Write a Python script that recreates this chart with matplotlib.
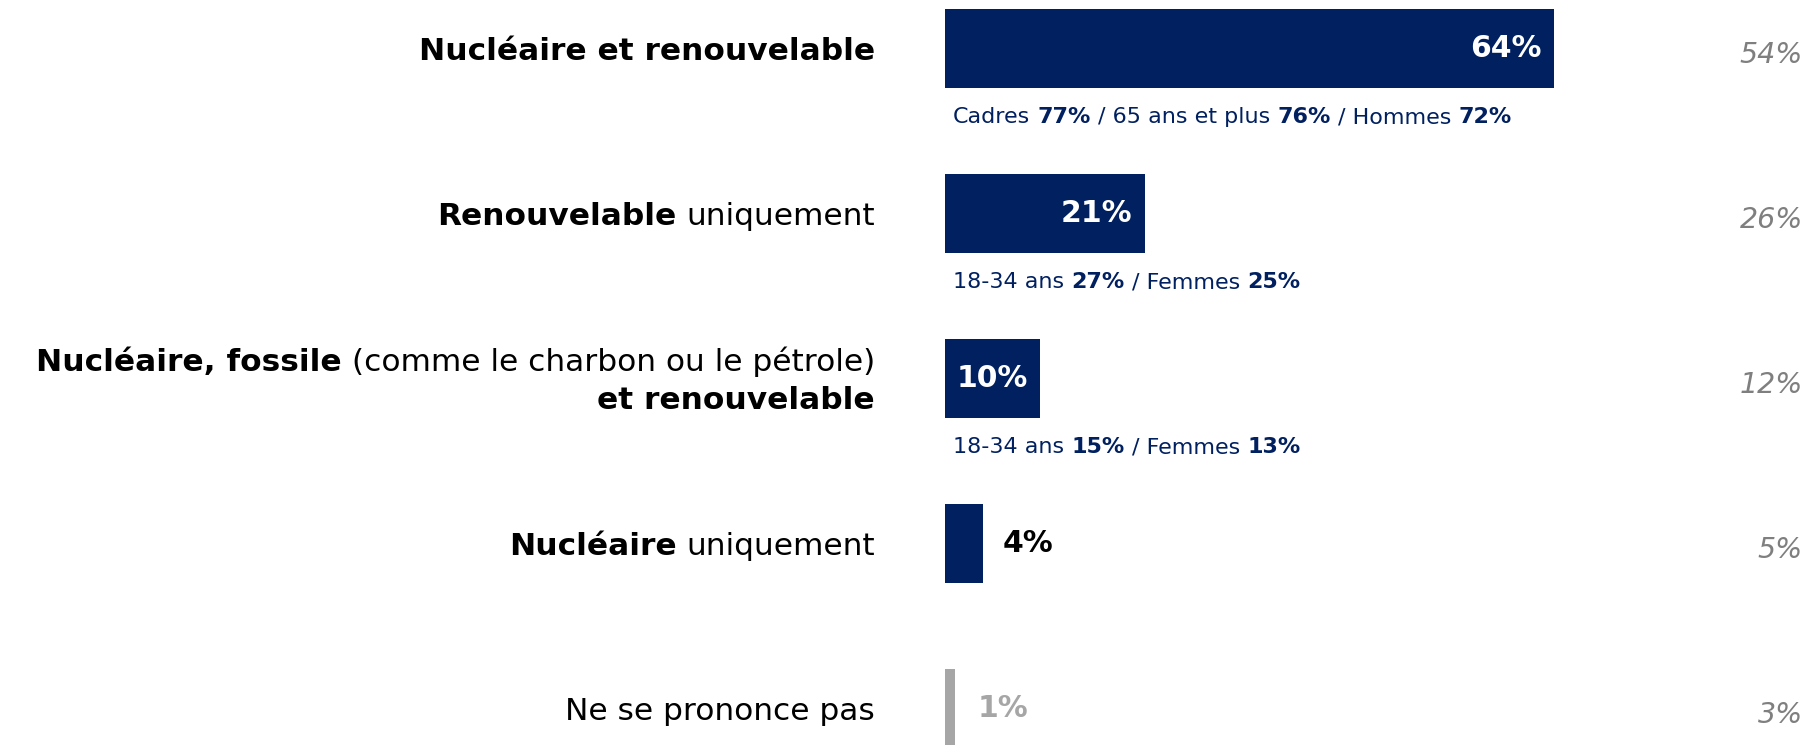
import numpy as np
import matplotlib
matplotlib.use('Agg')
import matplotlib.pyplot as plt
from matplotlib.transforms import blended_transform_factory

# données
labels = [
    [[("Nucléaire et renouvelable", "bold")]],
    [[("Renouvelable", "bold"), ("uniquement", "normal")]],
    [[("Nucléaire, fossile", "bold"), ("(comme le charbon ou le pétrole)", "normal")],
     [("et renouvelable", "bold")]],
    [[("Nucléaire", "bold"), ("uniquement", "normal")]],
    [[("Ne se prononce pas", "normal")]],
]
values = [64, 21, 10, 4, 1]
previous = [54, 26, 12, 5, 3]
details = [
    [("Cadres", "normal"), ("77%", "bold"), ("/ 65 ans et plus", "normal"), ("76%", "bold"),
     ("/ Hommes", "normal"), ("72%", "bold")],
    [("18-34 ans", "normal"), ("27%", "bold"), ("/ Femmes", "normal"), ("25%", "bold")],
    [("18-34 ans", "normal"), ("15%", "bold"), ("/ Femmes", "normal"), ("13%", "bold")],
    None,
    None,
]

NAVY = "#002060"
GREY_BAR = "#A6A6A6"
GREY_TXT = "#7F7F7F"
bar_colors = [NAVY, NAVY, NAVY, NAVY, GREY_BAR]

W, H = 1809, 745
fig = plt.figure(figsize=(W / 100, H / 100), dpi=100)
ax = fig.add_axes([945 / W, 0, 761.6 / W, 1])
ax.set_xlim(0, 80)
ax.set_ylim(4.221, -0.294)
ax.axis('off')

y = np.arange(len(values))
ax.barh(y, values, height=0.48, color=bar_colors)

renderer = fig.canvas.get_renderer()
trans = blended_transform_factory(fig.transFigure, ax.transData)


def text_width(s, size, weight):
    t = fig.text(0, 0, s, fontsize=size, fontweight=weight)
    w = t.get_window_extent(renderer).width
    t.remove()
    return w


def draw_pieces(pieces, x_px, yy, ha, size, color):
    space = text_width("a a", size, "normal") - text_width("aa", size, "normal")
    widths = [text_width(s, size, w) for s, w in pieces]
    total = sum(widths) + space * (len(pieces) - 1)
    start = x_px if ha == 'left' else x_px - total
    for (s, w), wd in zip(pieces, widths):
        ax.text(start / W, yy, s, transform=trans, ha='left', va='center_baseline',
                fontsize=size, fontweight=w, color=color)
        start += wd + space


# libellés à gauche
for i, lines in enumerate(labels):
    n = len(lines)
    for k, line in enumerate(lines):
        yy = i + (k - (n - 1) / 2) * 0.235
        draw_pieces(line, 875, yy, 'right', 22.5, 'black')

# valeurs
for i, v in enumerate(values):
    if v >= 10:
        ax.text(v - 1.3, i, f"{v}%", ha='right', va='center', fontsize=21.5,
                fontweight='bold', color='white')
    elif i == len(values) - 1:
        ax.text(v + 2.4, i, f"{v}%", ha='left', va='center', fontsize=21.5,
                fontweight='bold', color=GREY_BAR)
    else:
        ax.text(v + 2.1, i, f"{v}%", ha='left', va='center', fontsize=21.5,
                fontweight='bold', color='black')

# détails sous les barres
for i, d in enumerate(details):
    if d:
        draw_pieces(d, 953, i + 0.405, 'left', 16, NAVY)

# colonne de droite (vague précédente)
for i, p in enumerate(previous):
    ax.text(1803 / W, i + 0.04, f"{p}%", transform=trans, ha='right', va='center',
            fontsize=20.5, style='italic', color=GREY_TXT)

fig.savefig('out.png', dpi=100)
